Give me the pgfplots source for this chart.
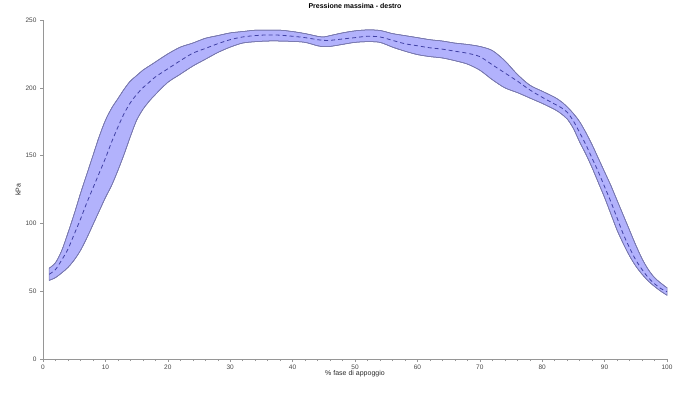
\documentclass[border=0pt]{standalone}
\usepackage{fontspec}
\setmainfont{Liberation Sans}
\usepackage{pgfplots}
\usepackage{pgfplotstable}
\pgfplotsset{compat=1.18}
\usepgfplotslibrary{fillbetween}

\definecolor{bandfill}{RGB}{178,178,252}
\definecolor{bandedge}{RGB}{120,120,175}
\definecolor{meanline}{RGB}{65,65,165}
\definecolor{axisgray}{RGB}{150,150,150}
\definecolor{labelgray}{RGB}{70,70,70}

% stance-phase peak pressure: lower bound, mean, upper bound (kPa)
\pgfplotstableread{
x   lo    mean  hi
1   58    62.5  67
2   60    66    71
3   63.5  73    80
4   67.5  81    93
5   73    92    107
6   80    103   122
7   89    115   136
8   99    126   150
9   109   137   164
10  119   148   176
11  128   160   185
12  139   171   192
13  151   181   199
14  164   189   205
15  176   195   209
16  184   200   213
17  190   204   216
18  195   208   219
20  204   214   225
22  210   220   230
24  216   225.5 233
26  221   229   236.5
28  226   232.5 238.5
30  230   235.5 240.5
32  233   237.5 241.5
34  234   238.5 242.5
36  234.5 239   242.6
38  234.5 238.8 242.5
40  234.2 238   241.5
42  233.5 237   240
44  231   235.5 238
45  230.3 235   237.5
46  230.5 235   238.5
48  232   236   240.5
50  233.5 237   242
52  234   238   242.7
54  233.5 237.5 242.3
56  230   235   240
58  227   232.5 238.5
60  224.5 231   237
62  223   229.5 235.5
64  222   228.5 234.5
66  220   227   233
68  217.5 225.5 232
70  213   223   230.5
72  206   217   227.5
74  200   211   220
76  196.5 205   210
78  192.5 198.5 202
80  188.5 193   197.5
82  184   188   193
83  181   185.5 190
84  177   182   186
85  170   175.5 181
86  160   167   175
87  151   158   167
88  141   148   158
89  130   138   148
90  119   127   138
91  107   116   128
92  95    104   117
93  85    92    106
94  76    82    95
95  68.5  73    84
96  62.5  66    74
97  57.5  60    66
98  53.5  55.5  60
99  50    52    56
100 47    49.6  52.5
}\pressure

\begin{document}
\begin{tikzpicture}
\begin{axis}[
  width=624pt, height=339pt, scale only axis,
  xmin=0, xmax=100, ymin=0, ymax=250,
  axis x line*=bottom, axis y line*=left,
  axis line style={axisgray, line width=0.5pt, -},
  xtick={0,10,...,100}, minor x tick num=4,
  ytick={0,50,...,250},
  tick align=outside,
  major tick length=3pt, minor tick length=2pt,
  tick style={axisgray, line width=0.4pt},
  /pgf/number format/assume math mode=true,
  ticklabel style={font=\fontsize{6.5}{7}\selectfont, text=labelgray},
  xticklabel style={yshift=1pt},
  title={\textbf{Pressione massima - destro}},
  title style={font=\fontsize{7}{8}\selectfont, at={(0.5,1)}, yshift=2pt},
  xlabel={\% fase di appoggio},
  ylabel={kPa},
  label style={font=\fontsize{7}{8}\selectfont, text=labelgray!60!black},
  xlabel style={yshift=6pt},
  ylabel style={yshift=-2pt},
  clip=false,
]
  \addplot[name path=upper, draw=bandedge, line width=0.5pt, smooth, tension=0.5]
    table[x=x, y=hi] {\pressure};
  \addplot[name path=lower, draw=bandedge, line width=0.5pt, smooth, tension=0.5]
    table[x=x, y=lo] {\pressure};
  \addplot[bandfill, draw=bandedge, line width=0.5pt] fill between[of=upper and lower];
  \addplot[draw=bandedge, line width=0.5pt, smooth, tension=0.5]
    table[x=x, y=hi] {\pressure};
  \addplot[draw=bandedge, line width=0.5pt, smooth, tension=0.5]
    table[x=x, y=lo] {\pressure};
  \addplot[meanline, line width=0.8pt, dash pattern=on 4pt off 3pt, smooth, tension=0.5]
    table[x=x, y=mean] {\pressure};
\end{axis}
\path[use as bounding box] (current axis.south west) ++(-43pt,-36pt) rectangle ([xshift=18pt,yshift=15pt]current axis.north east);
\end{tikzpicture}
\end{document}
